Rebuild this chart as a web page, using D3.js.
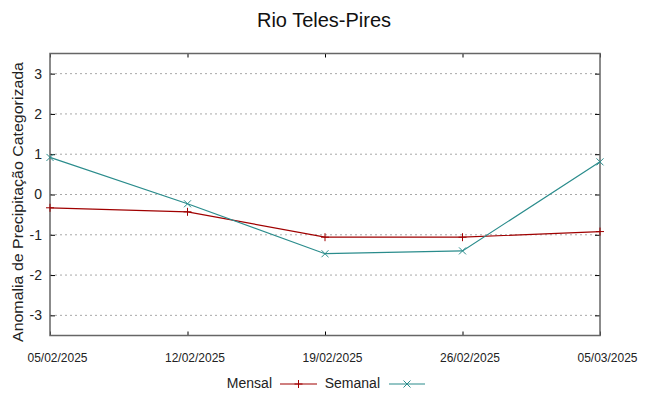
<!DOCTYPE html>
<html><head><meta charset="utf-8">
<script src="https://cdn.jsdelivr.net/npm/d3@7"></script>
<style>body{margin:0;background:#fff}svg{display:block}text{font-family:"Liberation Sans",Arial,sans-serif}</style>
</head><body><svg id="c" width="648" height="396"></svg>
<script>
const dates = ["05/02/2025","12/02/2025","19/02/2025","26/02/2025","05/03/2025"];
const mensal = [-0.33, -0.43, -1.06, -1.06, -0.92];
const semanal = [0.92, -0.23, -1.47, -1.40, 0.81];
const yTicks = [-3,-2,-1,0,1,2,3];
const yTickLabels = ["-3","-2","-1","0","1","2","3"];
const title = "Rio Teles-Pires";
const yLabel = "Anomalia de Precipitação Categorizada";

const svg = d3.select("#c");
const L=50,R=600,T=53.5,B=335.5;
const x = d3.scalePoint().domain(dates).range([L,R]);
const y = d3.scaleLinear().domain([-3.5,3.5]).range([B,T]);

svg.append("text").attr("x",324).attr("y",27).attr("text-anchor","middle").attr("font-size",20).attr("fill","#111").text(title);

// grid
svg.append("g").selectAll("line").data(yTicks).join("line")
  .attr("x1",L).attr("x2",R).attr("y1",d=>y(d)).attr("y2",d=>y(d))
  .attr("stroke","#a8a8a8").attr("stroke-width",1).attr("stroke-dasharray","2,3");

// axes
const yl = svg.append("g").attr("transform",`translate(${L},0)`).call(d3.axisLeft(y).tickValues(yTicks).tickSize(-5).tickPadding(8).tickFormat((d,i)=>yTickLabels[i]));
const yr = svg.append("g").attr("transform",`translate(${R},0)`).call(d3.axisRight(y).tickValues(yTicks).tickSize(-5).tickFormat(""));
const xt = svg.append("g").attr("transform",`translate(0,${T})`).call(d3.axisTop(x).tickSize(-4).tickFormat(""));
const xa = svg.append("g").attr("transform",`translate(0,${B})`).call(d3.axisBottom(x).tickSize(-4).tickPadding(0));
[yl,yr,xt,xa].forEach(g=>{g.select(".domain").remove();g.selectAll("line").attr("stroke","#000");});
yl.selectAll("text").attr("font-size",14).attr("fill","#222").attr("font-family","Liberation Sans, Arial, sans-serif");
xa.selectAll("text").attr("font-size",12).attr("fill","#222").attr("font-family","Liberation Sans, Arial, sans-serif")
  .attr("dy",null).attr("y",26).attr("dx",7);

// frame
svg.append("rect").attr("x",L).attr("y",T).attr("width",R-L).attr("height",B-T).attr("fill","none").attr("stroke","#666").attr("stroke-width",1.5);

svg.append("text").attr("transform",`translate(23,202) rotate(-90)`).attr("text-anchor","middle").attr("font-size",15).attr("fill","#222")
  .attr("textLength",280).attr("lengthAdjust","spacingAndGlyphs").text(yLabel);

const line = d3.line().x((d,i)=>x(dates[i])).y(d=>y(d));
const cM="#a00000", cS="#2a8c8c";
svg.append("path").attr("d",line(mensal)).attr("fill","none").attr("stroke",cM).attr("stroke-width",1.2);
svg.append("path").attr("d",line(semanal)).attr("fill","none").attr("stroke",cS).attr("stroke-width",1.2);

function plus(g,cx,cy,c){g.append("path").attr("d",`M${cx-4},${cy}H${cx+4}M${cx},${cy-4}V${cy+4}`).attr("stroke",c).attr("stroke-width",1);}
function cross(g,cx,cy,c){g.append("path").attr("d",`M${cx-3.5},${cy-3.5}L${cx+3.5},${cy+3.5}M${cx-3.5},${cy+3.5}L${cx+3.5},${cy-3.5}`).attr("stroke",c).attr("stroke-width",1);}
const gm = svg.append("g"), gs = svg.append("g");
mensal.forEach((v,i)=>plus(gm,x(dates[i]),y(v),cM));
semanal.forEach((v,i)=>cross(gs,x(dates[i]),y(v),cS));

// legend
const lg = svg.append("g");
const ly = 384;
lg.append("text").attr("x",272).attr("y",ly+4).attr("text-anchor","end").attr("font-size",14).attr("fill","#222").text("Mensal");
lg.append("line").attr("x1",280).attr("x2",317).attr("y1",ly).attr("y2",ly).attr("stroke",cM).attr("stroke-width",1.2);
plus(lg,298.5,ly,cM);
lg.append("text").attr("x",380).attr("y",ly+4).attr("text-anchor","end").attr("font-size",14).attr("fill","#222").text("Semanal");
lg.append("line").attr("x1",389).attr("x2",425).attr("y1",ly).attr("y2",ly).attr("stroke",cS).attr("stroke-width",1.2);
cross(lg,407,ly,cS);
</script></body></html>
